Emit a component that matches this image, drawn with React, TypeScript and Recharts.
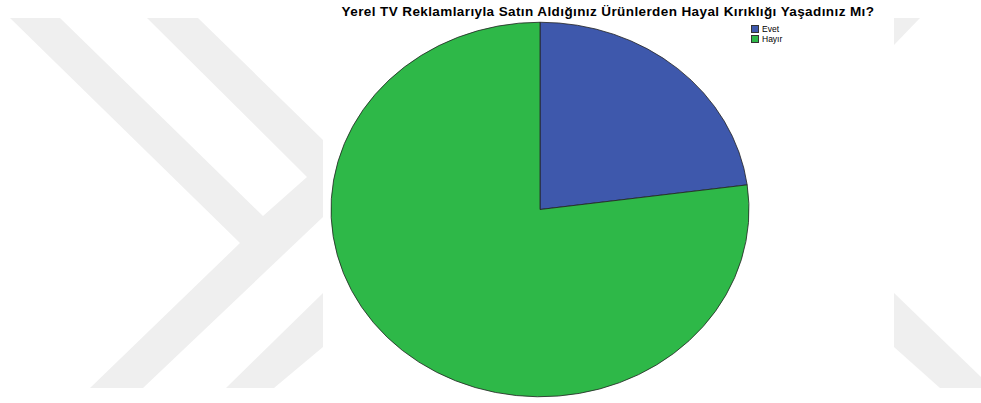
import React from 'react';
import { PieChart, Pie, Cell, Legend } from 'recharts';

const title = 'Yerel TV Reklamlarıyla Satın Aldığınız Ürünlerden Hayal Kırıklığı Yaşadınız Mı?';
const answers = ['Evet', 'Hayır'];
const shares = [22.9, 77.1];
const sliceColors = ['#3e58ac', '#2eb848'];

const pieData = answers.map((name, i) => ({ name, value: shares[i] }));

// the reference pie is squashed vertically, so draw each sector as an elliptical arc
const Y_SCALE = 0.896;
const RAD = Math.PI / 180;

const EllipseSector = (props: any) => {
  const { cx, cy, outerRadius, startAngle, endAngle, fill, stroke } = props;
  const rx = outerRadius;
  const ry = outerRadius * Y_SCALE;
  const pt = (a: number) => [cx + rx * Math.cos(-a * RAD), cy + ry * Math.sin(-a * RAD)];
  const [x1, y1] = pt(startAngle);
  const [x2, y2] = pt(endAngle);
  const sweep = Math.abs(endAngle - startAngle);
  const large = sweep > 180 ? 1 : 0;
  const dir = endAngle < startAngle ? 1 : 0;
  const d = `M ${cx},${cy} L ${x1},${y1} A ${rx},${ry} 0 ${large} ${dir} ${x2},${y2} Z`;
  return <path d={d} fill={fill} stroke={stroke} strokeWidth={0.8} strokeLinejoin="round" />;
};

const LegendBox = ({ payload }: any) => (
  <div style={{ fontFamily: '"Liberation Sans", Arial, sans-serif', fontSize: 8.5, lineHeight: '10px', color: '#000' }}>
    {(payload || []).map((p: any) => (
      <div key={p.value} style={{ display: 'flex', alignItems: 'center', height: 10 }}>
        <span
          style={{
            display: 'inline-block',
            width: 8,
            height: 8,
            background: p.color,
            border: '1px solid #333',
            boxSizing: 'border-box',
            marginRight: 3,
          }}
        />
        {p.value}
      </div>
    ))}
  </div>
);

const Watermark = () => (
  <svg width={981} height={403} style={{ position: 'absolute', left: 0, top: 0 }}>
    <g fill="#efefef">
      <polygon points="10,18 60,18 263,216 307,177 147,18 198,18 323,140 323,217 143,388 90,388 240,243" />
      <polygon points="323,293 323,347 274,388 226,388" />
      <polygon points="894,18 920,18 894,45" />
      <polygon points="894,293 981,377 981,388 940,388 894,347" />
    </g>
    <rect x={323} y={0} width={571} height={403} fill="#ffffff" />
  </svg>
);

export default function App() {
  return (
    <div style={{ position: 'absolute', left: 0, top: 0, width: 981, height: 403, background: '#fff' }}>
      <Watermark />
      <div
        style={{
          position: 'absolute',
          left: 0,
          width: 1216,
          top: 4,
          textAlign: 'center',
          fontFamily: '"Liberation Sans", Arial, sans-serif',
          fontWeight: 'bold',
          fontSize: 13.5,
          letterSpacing: 0.4,
          color: '#000',
          whiteSpace: 'nowrap',
        }}
      >
        {title}
      </div>
      <div style={{ position: 'absolute', left: 0, top: 0 }}>
        <PieChart width={981} height={403} margin={{ top: 0, right: 0, bottom: 0, left: 0 }}>
          <Pie
            data={pieData}
            dataKey="value"
            nameKey="name"
            cx={540}
            cy={209.5}
            outerRadius={209}
            startAngle={90}
            endAngle={-270}
            stroke="#222"
            isAnimationActive={false}
            shape={EllipseSector}
            activeShape={EllipseSector}
            inactiveShape={EllipseSector}
          >
            {pieData.map((d, i) => (
              <Cell key={d.name} fill={sliceColors[i]} />
            ))}
          </Pie>
          <Legend
            layout="vertical"
            content={<LegendBox />}
            wrapperStyle={{ position: 'absolute', left: 751, top: 24, width: 60 }}
          />
        </PieChart>
      </div>
    </div>
  );
}
